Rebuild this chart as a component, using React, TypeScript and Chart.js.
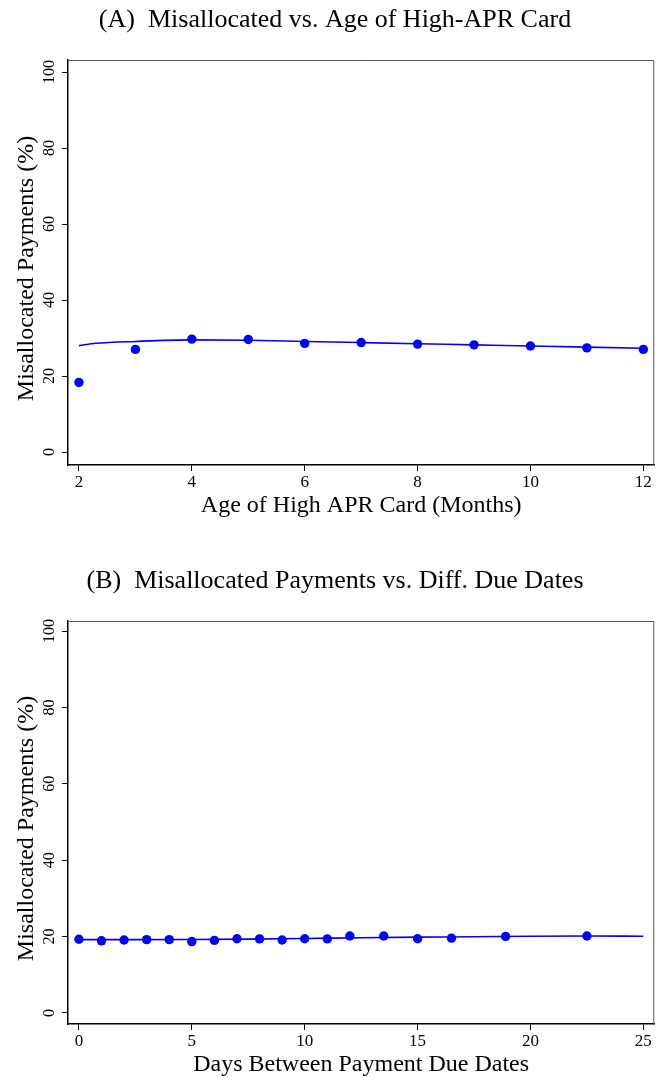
import React, { useEffect, useRef } from "react";
import { Chart, registerables } from "chart.js";

Chart.register(...registerables);

const FONT = '"Liberation Serif", "Times New Roman", serif';
const BLUE = "#0000ff";

// ---------- Panel A data ----------
const ageMonths = [2, 3, 4, 5, 6, 7, 8, 9, 10, 11, 12];
const ageShare = [18.3, 27.0, 29.7, 29.6, 28.6, 28.8, 28.4, 28.2, 27.9, 27.4, 27.0];
const ageFitX = [2, 2.3, 3, 4, 5, 6, 7, 8, 9, 10, 11, 12];
const ageFitY = [28.0, 28.6, 29.1, 29.5, 29.4, 29.1, 28.8, 28.5, 28.2, 27.9, 27.6, 27.3];
const ageTicksX = [2, 4, 6, 8, 10, 12];

// ---------- Panel B data ----------
const daysX = [0, 1, 2, 3, 4, 5, 6, 7, 8, 9, 10, 11, 12, 13.5, 15, 16.5, 18.9, 22.5];
const daysShare = [19.3, 18.9, 19.1, 19.2, 19.2, 18.7, 19.0, 19.45, 19.4, 19.1, 19.45, 19.4, 20.15, 20.15, 19.45, 19.6, 20.05, 20.15];
const daysFitX = [0, 2.5, 5, 7.5, 10, 12.5, 15, 17.5, 20, 22.5, 25];
const daysFitY = [19.2, 19.2, 19.25, 19.35, 19.5, 19.7, 19.85, 19.95, 20.1, 20.15, 20.1];
const daysTicksX = [0, 5, 10, 15, 20, 25];

const yTicks = [0, 20, 40, 60, 80, 100];

const titleA = "(A)  Misallocated vs. Age of High-APR Card";
const titleB = "(B)  Misallocated Payments vs. Diff. Due Dates";
const xTitleA = "Age of High APR Card (Months)";
const xTitleB = "Days Between Payment Due Dates";
const yTitle = "Misallocated Payments (%)";

const toPts = (xs: number[], ys: number[]) => xs.map((x, i) => ({ x, y: ys[i] }));

const stataText = {
  id: "stataText",
  afterDraw(chart: any, _args: any, o: any) {
    const { ctx, chartArea: ca, scales } = chart;
    ctx.save();
    // top / right frame
    ctx.strokeStyle = "#5a5a5a";
    ctx.lineWidth = 1;
    ctx.beginPath();
    ctx.moveTo(ca.left, ca.top + 0.5);
    ctx.lineTo(ca.right - 0.5, ca.top + 0.5);
    ctx.lineTo(ca.right - 0.5, ca.bottom);
    ctx.stroke();

    ctx.fillStyle = "#000";
    ctx.textAlign = "center";
    ctx.textBaseline = "alphabetic";
    ctx.font = `16px ${FONT}`;
    for (const t of scales.y.ticks) {
      const y = scales.y.getPixelForValue(t.value);
      ctx.save();
      ctx.translate(ca.left - 14, y);
      ctx.rotate(-Math.PI / 2);
      ctx.fillText(String(t.value), 0, 0);
      ctx.restore();
    }
    ctx.font = `17px ${FONT}`;
    for (const t of scales.x.ticks) {
      const x = scales.x.getPixelForValue(t.value);
      ctx.fillText(String(t.value), x, ca.bottom + 22);
    }
    ctx.font = `24px ${FONT}`;
    ctx.fillText(o.xTitle, (ca.left + ca.right) / 2, ca.bottom + 47);
    ctx.save();
    ctx.translate(33, (ca.top + ca.bottom) / 2 + 6);
    ctx.rotate(-Math.PI / 2);
    ctx.fillText(o.yTitle, 0, 0);
    ctx.restore();
    ctx.font = `26px ${FONT}`;
    ctx.fillText(o.title, 335, o.titleY);
    ctx.restore();
  },
};

type PanelProps = {
  top: number;
  height: number;
  plotTop: number;
  plotBottom: number;
  titleY: number;
  title: string;
  xTitle: string;
  points: { x: number; y: number }[];
  fit: { x: number; y: number }[];
  xTicks: number[];
  xMin: number;
  xMax: number;
  yMin: number;
  yMax: number;
};

function Panel(p: PanelProps) {
  const ref = useRef<HTMLCanvasElement | null>(null);
  useEffect(() => {
    if (!ref.current) return;
    const chart = new Chart(ref.current, {
      type: "scatter",
      data: {
        datasets: [
          {
            data: p.points,
            backgroundColor: BLUE,
            borderColor: BLUE,
            pointRadius: 4.7,
            pointHoverRadius: 4.7,
            borderWidth: 0,
            showLine: false,
          },
          {
            data: p.fit,
            showLine: true,
            borderColor: BLUE,
            borderWidth: 1.6,
            pointRadius: 0,
            cubicInterpolationMode: "monotone",
            fill: false,
          } as any,
        ],
      },
      options: {
        animation: false,
        responsive: false,
        events: [],
        layout: {
          padding: { left: 68, top: p.plotTop, right: 1, bottom: p.height - p.plotBottom },
        },
        plugins: {
          legend: { display: false },
          tooltip: { enabled: false },
          title: { display: false },
          stataText: { title: p.title, titleY: p.titleY, xTitle: p.xTitle, yTitle },
        } as any,
        scales: {
          x: {
            type: "linear",
            min: p.xMin,
            max: p.xMax,
            afterFit: (s: any) => {
              s.height = 0;
            },
            afterBuildTicks: (s: any) => {
              s.ticks = p.xTicks.map((v) => ({ value: v }));
            },
            ticks: { display: false },
            grid: { drawOnChartArea: false, drawTicks: true, tickLength: 6, color: "#000", lineWidth: 1 },
            border: { color: "#000", width: 1.5 },
          },
          y: {
            type: "linear",
            min: p.yMin,
            max: p.yMax,
            afterFit: (s: any) => {
              s.width = 0;
            },
            afterBuildTicks: (s: any) => {
              s.ticks = yTicks.map((v) => ({ value: v }));
            },
            ticks: { display: false },
            grid: { drawOnChartArea: false, drawTicks: true, tickLength: 6, color: "#000", lineWidth: 1 },
            border: { color: "#000", width: 1.5 },
          },
        },
      },
      plugins: [stataText],
    });
    return () => chart.destroy();
  }, []);
  return (
    <canvas
      ref={ref}
      width={659}
      height={p.height}
      style={{ position: "absolute", left: 0, top: p.top, width: 659, height: p.height, display: "block" }}
    />
  );
}

export default function App() {
  return (
    <div style={{ position: "absolute", left: 0, top: 0, width: 659, height: 1077, background: "#fff" }}>
      <Panel
        top={0}
        height={538}
        plotTop={60}
        plotBottom={465}
        titleY={27}
        title={titleA}
        xTitle={xTitleA}
        points={toPts(ageMonths, ageShare)}
        fit={toPts(ageFitX, ageFitY)}
        xTicks={ageTicksX}
        xMin={1.806}
        xMax={12.194}
        yMin={-3.42}
        yMax={103.16}
      />
      <Panel
        top={538}
        height={539}
        plotTop={83}
        plotBottom={486}
        titleY={50}
        title={titleB}
        xTitle={xTitleB}
        points={toPts(daysX, daysShare)}
        fit={toPts(daysFitX, daysFitY)}
        xTicks={daysTicksX}
        xMin={-0.484}
        xMax={25.484}
        yMin={-2.88}
        yMax={102.62}
      />
    </div>
  );
}
